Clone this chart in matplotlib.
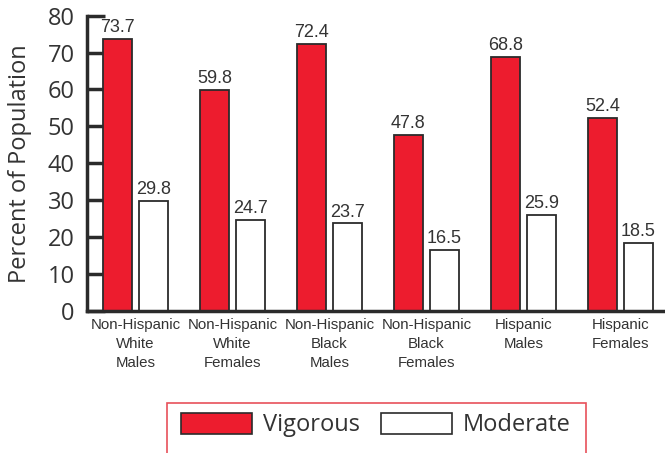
import numpy as np
import matplotlib
matplotlib.use("Agg")
import matplotlib.pyplot as plt
from matplotlib.patches import Patch, Rectangle

# ── Data ──────────────────────────────────────────────────────────────
GROUPS = [
    "Non-Hispanic\nWhite\nMales",
    "Non-Hispanic\nWhite\nFemales",
    "Non-Hispanic\nBlack\nMales",
    "Non-Hispanic\nBlack\nFemales",
    "Hispanic\nMales",
    "Hispanic\nFemales",
]
VIGOROUS = [73.7, 59.8, 72.4, 47.8, 68.8, 52.4]
MODERATE = [29.8, 24.7, 23.7, 16.5, 25.9, 18.5]
Y_TICKS = [0, 10, 20, 30, 40, 50, 60, 70, 80]

RED = "#ED1C2E"
EDGE = "#2b2b2b"
TEXT = "#333333"
NARROW = ["Liberation Sans", "DejaVu Sans"]
WIDE = ["Open Sans", "DejaVu Sans"]

# ── Figure ────────────────────────────────────────────────────────────
fig = plt.figure(figsize=(6.65, 4.53), dpi=100)
ax = fig.add_axes([0.131, 0.3135, 0.869, 0.652])

x = np.arange(len(GROUPS))
w = 0.30
off = 0.186
ax.bar(x - off, VIGOROUS, w, color=RED, edgecolor=EDGE, linewidth=1.3, zorder=2)
ax.bar(x + off, MODERATE, w, color="white", edgecolor=EDGE, linewidth=1.3, zorder=2)

# value labels above each bar
for xi, v in zip(x - off, VIGOROUS):
    ax.text(xi, v + 0.8, f"{v}", ha="center", va="bottom", fontsize=13,
            family=NARROW, color=TEXT)
for xi, v in zip(x + off, MODERATE):
    ax.text(xi, v + 0.8, f"{v}", ha="center", va="bottom", fontsize=13,
            family=NARROW, color=TEXT)

ax.set_xlim(-0.5, 5.46)
ax.set_ylim(0, 80)
ax.set_yticks(Y_TICKS)
ax.set_yticklabels([str(t) for t in Y_TICKS], family=WIDE, fontsize=17, color=TEXT)
ax.set_xticks(x)
ax.set_xticklabels(GROUPS, family=NARROW, fontsize=10.8, color=TEXT, linespacing=1.45)
ax.tick_params(axis="y", direction="in", length=13, width=2.5, color=EDGE, pad=9)
ax.tick_params(axis="x", length=0, pad=5)

for side in ("top", "right"):
    ax.spines[side].set_visible(False)
for side in ("left", "bottom"):
    ax.spines[side].set_linewidth(2.5)
    ax.spines[side].set_color(EDGE)

ax.set_ylabel("Percent of Population", family=WIDE, fontsize=17, color=TEXT)
ax.yaxis.set_label_coords(-0.095, 0.5)

# ── Legend ────────────────────────────────────────────────────────────
handles = [
    Patch(facecolor=RED, edgecolor=EDGE, linewidth=1.2, label="Vigorous"),
    Patch(facecolor="white", edgecolor=EDGE, linewidth=1.2, label="Moderate"),
]
fig.legend(handles=handles, ncol=2, frameon=False, loc="center",
           bbox_to_anchor=(376 / 665, 1 - 425 / 453),
           prop={"family": WIDE, "size": 17}, handlelength=3.0, handleheight=1.0,
           handletextpad=0.45, columnspacing=0.9, labelcolor=TEXT)
# open-bottomed red box around the legend
fig.patches.append(Rectangle((167 / 665, -0.05), (586 - 167) / 665, 0.05 + 1 - 403 / 453,
                             transform=fig.transFigure, fill=False,
                             edgecolor="#e8505a", linewidth=1.2))

fig.savefig("out.png", dpi=100)
